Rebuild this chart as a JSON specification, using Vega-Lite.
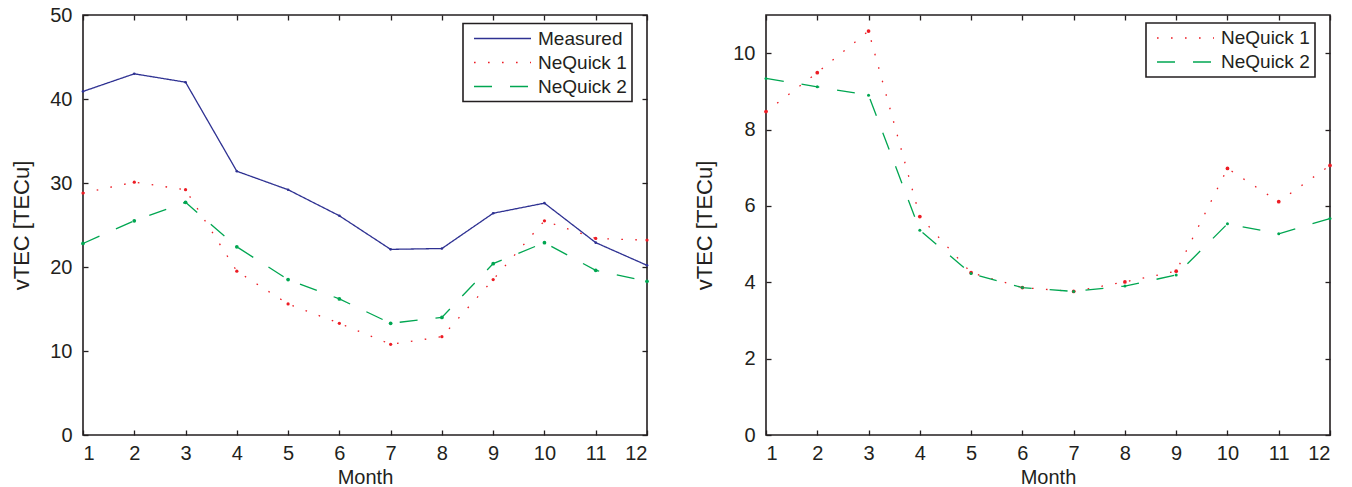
{
  "$schema": "https://vega.github.io/schema/vega-lite/v6.json",
  "padding": {"left": 9, "top": 4, "right": 5, "bottom": 5},
  "background": "white",
  "bounds": "flush",
  "spacing": 119,
  "config": {
    "font": "Liberation Sans",
    "view": {"stroke": "#231f20", "strokeWidth": 1.6},
    "axis": {
      "grid": false,
      "domain": false,
      "labelFontSize": 20,
      "titleFontSize": 20,
      "titleFontWeight": "normal",
      "labelColor": "#231f20",
      "titleColor": "#231f20",
      "tickColor": "#231f20",
      "tickSize": -5,
      "tickWidth": 1.3,
      "labelPadding": 16
    },
    "axisX": {"titlePadding": 4, "labelPadding": 13},
    "axisY": {"titlePadding": 16, "titleFontSize": 22},
    "legend": {
      "orient": "none",
      "title": null,
      "strokeColor": "#231f20",
      "strokeWidth": 1.6,
      "fillColor": "transparent",
      "padding": 5,
      "symbolType": "M-0.444,0H5.889",
      "symbolSize": 324,
      "symbolStrokeWidth": 1.3,
      "labelFontSize": 19,
      "labelColor": "#231f20",
      "labelOffset": 50,
      "rowPadding": 4,
      "labelLimit": 200
    }
  },
  "datasets": {
    "left": [
      {"Series": "Measured", "Month": 1, "vTEC": 40.9},
      {"Series": "Measured", "Month": 2, "vTEC": 43.0},
      {"Series": "Measured", "Month": 3, "vTEC": 42.0},
      {"Series": "Measured", "Month": 4, "vTEC": 31.4},
      {"Series": "Measured", "Month": 5, "vTEC": 29.2},
      {"Series": "Measured", "Month": 6, "vTEC": 26.1},
      {"Series": "Measured", "Month": 7, "vTEC": 22.1},
      {"Series": "Measured", "Month": 8, "vTEC": 22.2},
      {"Series": "Measured", "Month": 9, "vTEC": 26.4},
      {"Series": "Measured", "Month": 10, "vTEC": 27.6},
      {"Series": "Measured", "Month": 11, "vTEC": 22.9},
      {"Series": "Measured", "Month": 12, "vTEC": 20.2},
      {"Series": "NeQuick 1", "Month": 1, "vTEC": 28.8},
      {"Series": "NeQuick 1", "Month": 2, "vTEC": 30.1},
      {"Series": "NeQuick 1", "Month": 3, "vTEC": 29.2},
      {"Series": "NeQuick 1", "Month": 4, "vTEC": 19.5},
      {"Series": "NeQuick 1", "Month": 5, "vTEC": 15.6},
      {"Series": "NeQuick 1", "Month": 6, "vTEC": 13.3},
      {"Series": "NeQuick 1", "Month": 7, "vTEC": 10.8},
      {"Series": "NeQuick 1", "Month": 8, "vTEC": 11.7},
      {"Series": "NeQuick 1", "Month": 9, "vTEC": 18.5},
      {"Series": "NeQuick 1", "Month": 10, "vTEC": 25.5},
      {"Series": "NeQuick 1", "Month": 11, "vTEC": 23.4},
      {"Series": "NeQuick 1", "Month": 12, "vTEC": 23.2},
      {"Series": "NeQuick 2", "Month": 1, "vTEC": 22.8},
      {"Series": "NeQuick 2", "Month": 2, "vTEC": 25.5},
      {"Series": "NeQuick 2", "Month": 3, "vTEC": 27.7},
      {"Series": "NeQuick 2", "Month": 4, "vTEC": 22.4},
      {"Series": "NeQuick 2", "Month": 5, "vTEC": 18.5},
      {"Series": "NeQuick 2", "Month": 6, "vTEC": 16.2},
      {"Series": "NeQuick 2", "Month": 7, "vTEC": 13.3},
      {"Series": "NeQuick 2", "Month": 8, "vTEC": 14.0},
      {"Series": "NeQuick 2", "Month": 9, "vTEC": 20.4},
      {"Series": "NeQuick 2", "Month": 10, "vTEC": 22.9},
      {"Series": "NeQuick 2", "Month": 11, "vTEC": 19.6},
      {"Series": "NeQuick 2", "Month": 12, "vTEC": 18.3}
    ],
    "right": [
      {"Series": "NeQuick 1", "Month": 1, "vTEC": 8.47},
      {"Series": "NeQuick 1", "Month": 2, "vTEC": 9.49},
      {"Series": "NeQuick 1", "Month": 3, "vTEC": 10.58},
      {"Series": "NeQuick 1", "Month": 4, "vTEC": 5.72},
      {"Series": "NeQuick 1", "Month": 5, "vTEC": 4.25},
      {"Series": "NeQuick 1", "Month": 6, "vTEC": 3.86},
      {"Series": "NeQuick 1", "Month": 7, "vTEC": 3.76},
      {"Series": "NeQuick 1", "Month": 8, "vTEC": 4.01},
      {"Series": "NeQuick 1", "Month": 9, "vTEC": 4.29},
      {"Series": "NeQuick 1", "Month": 10, "vTEC": 6.98},
      {"Series": "NeQuick 1", "Month": 11, "vTEC": 6.11},
      {"Series": "NeQuick 1", "Month": 12, "vTEC": 7.06},
      {"Series": "NeQuick 2", "Month": 1, "vTEC": 9.34},
      {"Series": "NeQuick 2", "Month": 2, "vTEC": 9.12},
      {"Series": "NeQuick 2", "Month": 3, "vTEC": 8.90},
      {"Series": "NeQuick 2", "Month": 4, "vTEC": 5.36},
      {"Series": "NeQuick 2", "Month": 5, "vTEC": 4.23},
      {"Series": "NeQuick 2", "Month": 6, "vTEC": 3.86},
      {"Series": "NeQuick 2", "Month": 7, "vTEC": 3.76},
      {"Series": "NeQuick 2", "Month": 8, "vTEC": 3.90},
      {"Series": "NeQuick 2", "Month": 9, "vTEC": 4.19},
      {"Series": "NeQuick 2", "Month": 10, "vTEC": 5.53},
      {"Series": "NeQuick 2", "Month": 11, "vTEC": 5.27},
      {"Series": "NeQuick 2", "Month": 12, "vTEC": 5.67}
    ]
  },
  "hconcat": [
    {
      "width": 564,
      "height": 420,
      "data": {"name": "left"},
      "layer": [
        {
          "mark": {"type": "line", "strokeWidth": 1.3, "strokeCap": "butt"},
          "encoding": {
            "x": {"field": "Month", "type": "quantitative", "scale": {"domain": [1, 12], "nice": false, "zero": false}, "axis": {"values": [1,2,3,4,5,6,7,8,9,10,11,12], "title": "Month"}},
            "y": {"field": "vTEC", "type": "quantitative", "scale": {"domain": [0, 50], "nice": false}, "axis": {"values": [0,10,20,30,40,50], "title": "vTEC [TECu]"}},
            "color": {"field": "Series", "type": "nominal", "scale": {"domain": ["Measured", "NeQuick 1", "NeQuick 2"], "range": ["#2e3192", "#ed1c24", "#00a651"]}, "legend": {"legendX": 380, "legendY": 8.5, "zindex": 1, "encode": {"symbols": {"update": {"size": {"value": 324}}}}}},
            "strokeDash": {"field": "Series", "type": "nominal", "scale": {"domain": ["Measured", "NeQuick 1", "NeQuick 2"], "range": [[1, 0], [1.6, 12.4], [18, 18]]}, "legend": {"legendX": 380, "legendY": 8.5, "zindex": 1, "encode": {"symbols": {"update": {"size": {"value": 324}}}}}}
          }
        },
        {
          "mark": {"type": "circle", "opacity": 1},
          "encoding": {
            "x": {"field": "Month", "type": "quantitative", "axis": {"orient": "top", "labels": false, "title": null, "values": [1,2,3,4,5,6,7,8,9,10,11,12]}},
            "y": {"field": "vTEC", "type": "quantitative", "axis": {"orient": "right", "labels": false, "title": null, "values": [0,10,20,30,40,50]}},
            "fill": {"field": "Series", "type": "nominal", "scale": {"range": ["#2e3192", "#ed1c24", "#00a651"]}, "legend": {"legendX": 380, "legendY": 8.5, "zindex": 2, "symbolType": "circle", "symbolOffset": 24.5, "symbolStrokeWidth": 0, "strokeColor": "transparent", "fillColor": "transparent", "labelOpacity": 0, "labelFontSize": 20}},
            "size": {"field": "Series", "type": "ordinal", "scale": {"range": [7, 14, 9]}, "legend": null}
          }
        }
      ],
      "resolve": {"axis": {"x": "independent", "y": "independent"}}
    },
    {
      "width": 564,
      "height": 420,
      "data": {"name": "right"},
      "layer": [
        {
          "mark": {"type": "line", "strokeWidth": 1.3, "strokeCap": "butt"},
          "encoding": {
            "x": {"field": "Month", "type": "quantitative", "scale": {"domain": [1, 12], "nice": false, "zero": false}, "axis": {"values": [1,2,3,4,5,6,7,8,9,10,11,12], "title": "Month"}},
            "y": {"field": "vTEC", "type": "quantitative", "scale": {"domain": [0, 11], "nice": false}, "axis": {"values": [0,2,4,6,8,10], "title": "vTEC [TECu]"}},
            "color": {"field": "Series", "type": "nominal", "scale": {"domain": ["NeQuick 1", "NeQuick 2"], "range": ["#ed1c24", "#00a651"]}, "legend": {"legendX": 380, "legendY": 8, "zindex": 1, "encode": {"symbols": {"update": {"size": {"value": 324}}}}}},
            "strokeDash": {"field": "Series", "type": "nominal", "scale": {"domain": ["NeQuick 1", "NeQuick 2"], "range": [[1.6, 12.4], [18, 18]]}, "legend": {"legendX": 380, "legendY": 8, "zindex": 1, "encode": {"symbols": {"update": {"size": {"value": 324}}}}}}
          }
        },
        {
          "mark": {"type": "circle", "opacity": 1},
          "encoding": {
            "x": {"field": "Month", "type": "quantitative", "axis": {"orient": "top", "labels": false, "title": null, "values": [1,2,3,4,5,6,7,8,9,10,11,12]}},
            "y": {"field": "vTEC", "type": "quantitative", "axis": {"orient": "right", "labels": false, "title": null, "values": [0,2,4,6,8,10]}},
            "fill": {"field": "Series", "type": "nominal", "scale": {"range": ["#ed1c24", "#00a651"]}, "legend": {"legendX": 380, "legendY": 8, "zindex": 2, "symbolType": "circle", "symbolOffset": 24.5, "symbolStrokeWidth": 0, "strokeColor": "transparent", "fillColor": "transparent", "labelOpacity": 0, "labelFontSize": 20}},
            "size": {"field": "Series", "type": "ordinal", "scale": {"range": [14, 9]}, "legend": null}
          }
        }
      ],
      "resolve": {"axis": {"x": "independent", "y": "independent"}}
    }
  ],
  "resolve": {"scale": {"color": "independent", "fill": "independent", "strokeDash": "independent", "size": "independent"}, "legend": {"color": "independent", "fill": "independent", "strokeDash": "independent"}}
}
